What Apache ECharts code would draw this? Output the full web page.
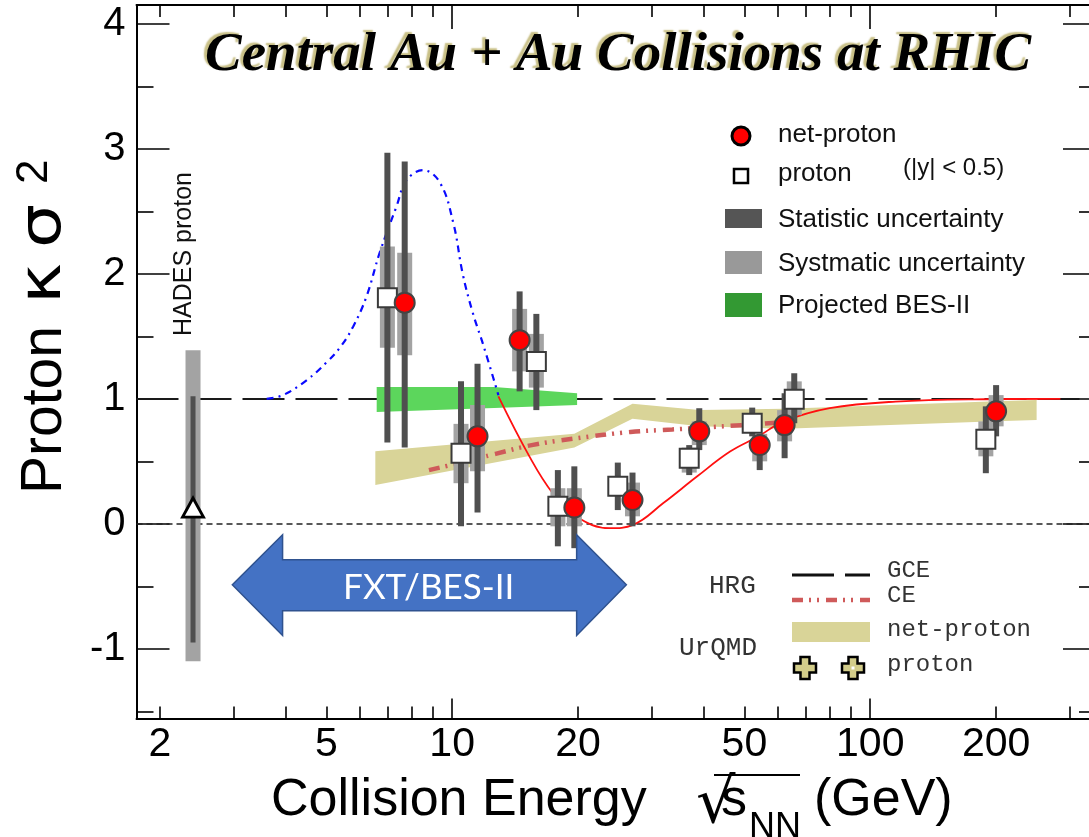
<!DOCTYPE html>
<html><head><meta charset="utf-8">
<script src="https://cdn.jsdelivr.net/npm/echarts@6/dist/echarts.min.js"></script>
<style>html,body{margin:0;padding:0;overflow:hidden;background:#fff}#c{position:absolute;left:0;top:0;width:1100px;height:837px}</style>
</head><body><div id="c"></div><script>
// ---------------- data ----------------
// STAR net-proton (red circles)
const netE = [7.7, 11.5, 14.5, 19.6, 27, 39, 54.4, 62.4, 200];
const netK = [1.77, 0.70, 1.47, 0.13, 0.19, 0.74, 0.63, 0.79, 0.90];
const netStatLo = [0.61, 0.09, 1.06, -0.195, -0.02, 0.59, 0.43, 0.525, 0.70];
const netStatHi = [2.90, 1.28, 1.86, 0.46, 0.41, 0.925, 0.72, 1.045, 1.11];
const netSysLo = [1.35, 0.42, 1.22, -0.02, 0.06, 0.63, 0.50, 0.66, 0.78];
const netSysHi = [2.17, 0.95, 1.72, 0.285, 0.33, 0.82, 0.72, 0.91, 1.03];
// STAR proton (open squares, drawn slightly left)
const protE = [7.0, 10.5, 15.9, 17.9, 24.9, 36.9, 52.2, 65.8, 189];
const protK = [1.81, 0.565, 1.30, 0.14, 0.30, 0.525, 0.805, 0.997, 0.677];
const protStatLo = [0.65, -0.02, 0.91, -0.18, 0.11, 0.39, 0.70, 0.805, 0.405];
const protStatHi = [2.97, 1.14, 1.68, 0.43, 0.49, 0.63, 0.93, 1.205, 0.94];
const protSysLo = [1.41, 0.325, 1.09, -0.02, 0.22, 0.41, 0.74, 0.87, 0.54];
const protSysHi = [2.22, 0.80, 1.52, 0.285, 0.38, 0.61, 0.87, 1.14, 0.82];
// HADES proton
const hadesE = [2.4];
const hadesK = [0.13];
const hadesStatLo = [-0.95], hadesStatHi = [1.02];
const hadesSysLo = [-1.10], hadesSysHi = [1.39];
// Projected BES-II band
const bes2E = [6.6, 12.6, 19.9];
const bes2Lo = [0.895, 0.927, 0.95];
const bes2Hi = [1.095, 1.095, 1.045];
// UrQMD net-proton band
const urE = [6.55, 19.6, 27, 39, 62.4, 200, 250];
const urLo = [0.31, 0.61, 0.84, 0.78, 0.76, 0.82, 0.83];
const urHi = [0.58, 0.72, 0.96, 0.91, 0.92, 0.98, 0.99];
// HRG CE
const ceE = [8.8, 10.5, 12.7, 15.5, 19.4, 26.7, 33.6, 44.4, 60.6];
const ceK = [0.43, 0.49, 0.56, 0.63, 0.68, 0.735, 0.755, 0.78, 0.81];
// blue dash-dot curve
const blueE = [3.6, 3.94, 4.49, 5.0, 5.39, 5.8, 6.24, 6.71, 7.36, 7.78, 8.52, 9.35, 10.06, 10.6, 11.2, 11.9, 12.9];
const blueK = [1.0, 1.03, 1.15, 1.29, 1.41, 1.58, 1.82, 2.17, 2.54, 2.75, 2.83, 2.73, 2.41, 2.0, 1.69, 1.42, 1.03];
// red solid curve
const redE = [12.9, 15.3, 17.4, 19.8, 23.8, 27.1, 32.0, 38.5, 46.2, 54, 62, 80, 115, 188, 285];
const redK = [1.02, 0.54, 0.245, 0.058, -0.035, -0.008, 0.166, 0.378, 0.578, 0.70, 0.818, 0.925, 0.978, 0.997, 1.0];
// FXT/BES-II arrow outline
const arrowE = [2.98, 3.93, 3.93, 19.85, 19.85, 26.1, 19.85, 19.85, 3.93, 3.93];
const arrowK = [-0.488, -0.088, -0.288, -0.288, -0.088, -0.488, -0.894, -0.696, -0.696, -0.894];
const arrowLabel = ['FXT/BES-II', 8.79, -0.508];
// axes
const xMin = 1.758, xMax = 346.7, yMin = -1.558, yMax = 4.152;
const xLabelVals = [2, 5, 10, 20, 50, 100, 200];
const xMajorTicks = [10, 100];
const xMinorTicks = [2,3,4,5,6,7,8,9,20,30,40,50,60,70,80,90,200,300];
const yLabelVals = [-1, 0, 1, 2, 3, 4];
const yMinorTicks = [-1.5, -0.5, 0.5, 1.5, 2.5, 3.5];

// ---------------- chart ----------------
const chart = echarts.init(document.getElementById('c'), null, {renderer: 'canvas'});
const L = v => Math.log10(v);
const SANS = '"Liberation Sans", Arial, sans-serif';
const MONO = '"Liberation Mono", "Courier New", monospace';

const noLine = {show: false, onZero: false};
const axLine = {show: true, onZero: false, lineStyle: {color: '#000', width: 2}};
const tickStyle = {color: '#000', width: 1.6};

function xAx(pos, opts) {
  return Object.assign({type: 'value', min: L(xMin), max: L(xMax), position: pos, gridIndex: 0,
    axisLine: noLine, splitLine: {show: false}, axisLabel: {show: false}}, opts);
}
function yAx(pos, opts) {
  return Object.assign({type: 'value', min: yMin, max: yMax, position: pos, gridIndex: 0,
    axisLine: noLine, splitLine: {show: false}, axisLabel: {show: false}}, opts);
}

function bandRender(E, lo, hi, color) {
  return function (params, api) {
    if (params.dataIndex !== 0) return null;
    const pts = [];
    for (let i = 0; i < E.length; i++) pts.push(api.coord([E[i], hi[i]]));
    for (let i = E.length - 1; i >= 0; i--) pts.push(api.coord([E[i], lo[i]]));
    return {type: 'polygon', shape: {points: pts}, style: {fill: color}};
  };
}
function barRender(width, color) {
  return function (params, api) {
    const x = api.value(0), lo = api.value(1), hi = api.value(2);
    const p1 = api.coord([x, hi]), p2 = api.coord([x, lo]);
    return {type: 'rect', shape: {x: p1[0] - width / 2, y: p1[1], width: width, height: p2[1] - p1[1]},
      style: {fill: color}};
  };
}
function zip3(a, b, c) { return a.map((v, i) => [v, b[i], c[i]]); }
function zip2(a, b) { return a.map((v, i) => [v, b[i]]); }

function errSeries(E, lo, hi, w, color, z) {
  return {type: 'custom', xAxisIndex: 0, yAxisIndex: 0, z: z, silent: true,
    renderItem: barRender(w, color), data: zip3(E, lo, hi), encode: {x: 0, y: [1, 2]}};
}

const STAT = '#4f4f4f', SYS = '#a3a3a3';

const series = [
  {type: 'custom', name: 'UrQMD net-proton', xAxisIndex: 0, yAxisIndex: 0, z: 2, silent: true,
    renderItem: bandRender(urE, urLo, urHi, '#d9d498'), data: zip3(urE, urLo, urHi), encode: {x: 0, y: [1, 2]},
    markLine: {silent: true, z: 1, symbol: ['none', 'none'], label: {show: false}, animation: false,
      data: [
        {yAxis: 1, lineStyle: {type: [42, 11], color: '#1a1a1a', width: 2.2}},
        {yAxis: 0, lineStyle: {type: [6, 4], color: '#222', width: 1.6}}
      ]}},
  {type: 'custom', name: 'Projected BES-II', xAxisIndex: 0, yAxisIndex: 0, z: 2, silent: true,
    renderItem: bandRender(bes2E, bes2Lo, bes2Hi, '#5cd65c'), data: zip3(bes2E, bes2Lo, bes2Hi), encode: {x: 0, y: [1, 2]}},
  {type: 'line', name: 'HRG CE', xAxisIndex: 0, yAxisIndex: 0, z: 3, data: zip2(ceE, ceK), smooth: 0.4,
    showSymbol: false, symbol: 'none', lineStyle: {color: '#cf5a5a', width: 4.5, type: [11, 6, 2, 6, 2, 7]}},
  {type: 'line', name: 'blue', xAxisIndex: 0, yAxisIndex: 0, z: 3, data: zip2(blueE, blueK), smooth: 0.4,
    showSymbol: false, symbol: 'none', lineStyle: {color: '#0a0aff', width: 2.2, type: [7, 5, 2, 5]}},
  {type: 'line', name: 'red', xAxisIndex: 0, yAxisIndex: 0, z: 3, data: zip2(redE, redK), smooth: 0.4,
    showSymbol: false, symbol: 'none', lineStyle: {color: '#ff1010', width: 1.8}},
  errSeries(hadesE, hadesSysLo, hadesSysHi, 15, SYS, 4),
  errSeries(hadesE, hadesStatLo, hadesStatHi, 5, STAT, 4),
  errSeries(protE, protSysLo, protSysHi, 15, SYS, 4),
  errSeries(netE, netSysLo, netSysHi, 15, SYS, 4),
  errSeries(protE, protStatLo, protStatHi, 6, STAT, 4),
  errSeries(netE, netStatLo, netStatHi, 6, STAT, 4),
  {type: 'scatter', name: 'proton', xAxisIndex: 0, yAxisIndex: 0, z: 5, data: zip2(protE, protK),
    symbol: 'rect', symbolSize: 19, itemStyle: {color: '#fff', borderColor: '#3a3a3a', borderWidth: 2, opacity: 1}},
  {type: 'scatter', name: 'net-proton', xAxisIndex: 0, yAxisIndex: 0, z: 6, data: zip2(netE, netK),
    symbol: 'circle', symbolSize: 20, itemStyle: {color: '#ff0000', borderColor: '#444', borderWidth: 2, opacity: 1}},
  {type: 'scatter', name: 'HADES', xAxisIndex: 0, yAxisIndex: 0, z: 6, data: zip2(hadesE, hadesK),
    symbol: 'triangle', symbolSize: [21, 19], itemStyle: {color: '#fff', borderColor: '#000', borderWidth: 2.8, opacity: 1}},
  {type: 'custom', name: 'arrow', xAxisIndex: 0, yAxisIndex: 0, z: 7, silent: true,
    data: zip2(arrowE, arrowK), encode: {x: 0, y: 1},
    renderItem: function (params, api) {
      if (params.dataIndex !== 0) return null;
      const pts = arrowE.map((e, i) => api.coord([e, arrowK[i]]));
      const c = api.coord([arrowLabel[1], arrowLabel[2]]);
      return {type: 'group', children: [
        {type: 'polygon', shape: {points: pts}, style: {fill: '#4472c4', stroke: '#2f528f', lineWidth: 1.5}},
        {type: 'text', x: c[0], y: c[1], style: {text: arrowLabel[0], fill: '#fff', font: '35px Lato, "Open Sans", sans-serif',
          textAlign: 'center', textVerticalAlign: 'middle'}}
      ]};
    }}
];

function cross(cx, cy) {
  const a = 11, b = 4.5;
  return [[cx-b,cy-a],[cx+b,cy-a],[cx+b,cy-b],[cx+a,cy-b],[cx+a,cy+b],[cx+b,cy+b],[cx+b,cy+a],[cx-b,cy+a],[cx-b,cy+b],[cx-a,cy+b],[cx-a,cy-b],[cx-b,cy-b]];
}
function txt(text, x, y, font, extra) {
  return {type: 'text', x: x, y: y, silent: true, z: 20,
    style: Object.assign({text: text, font: font, fill: '#111', textAlign: 'left', textVerticalAlign: 'middle'}, extra || {})};
}
function vtxt(text, x, y, font, sx) {
  return {type: 'text', x: x, y: y, rotation: Math.PI / 2, scaleX: sx || 1, z: 20, silent: true,
    style: {text: text, font: font, fill: '#000', textAlign: 'left', textVerticalAlign: 'middle'}};
}

const GREEK = '"DejaVu Sans", ' + SANS;
const graphic = [
  // title
  {type: 'text', x: 205, y: 56, z: 20, silent: true, style: {text: 'Central Au + Au Collisions at RHIC',
    font: 'italic bold 55px "Liberation Serif", "Times New Roman", serif', fill: '#000', textAlign: 'left', textVerticalAlign: 'middle',
    textShadowColor: '#c8bf85', textShadowOffsetX: -3, textShadowOffsetY: -2, textShadowBlur: 1.5}},
  // y-axis title: Proton κσ²
  vtxt('Proton', 45, 494, '57px ' + SANS),
  vtxt('κ', 45, 304, '58px ' + GREEK, 1.2),
  vtxt('σ', 45, 248, '58px ' + GREEK, 1.2),
  vtxt('2', 35, 184, '44px ' + SANS),
  // x-axis title
  txt('Collision Energy', 271, 801, '52px ' + SANS, {fill: '#000'}),
  txt('√', 696, 806, '62px "DejaVu Sans", sans-serif', {fill: '#000'}),
  {type: 'line', z: 20, silent: true, shape: {x1: 714, y1: 775, x2: 800, y2: 775}, style: {stroke: '#000', lineWidth: 2}},
  txt('s', 721, 801, '52px ' + SANS, {fill: '#000'}),
  txt('NN', 749, 828, '36px ' + SANS, {fill: '#000'}),
  txt('(GeV)', 814, 801, '52px ' + SANS, {fill: '#000'}),
  // HADES label
  {type: 'text', x: 184, y: 336, rotation: Math.PI / 2, z: 20, silent: true, style: {text: 'HADES proton',
    font: '25px ' + SANS, fill: '#111', textAlign: 'left', textVerticalAlign: 'middle'}},
  // top-right legend
  {type: 'circle', z: 20, silent: true, shape: {cx: 741, cy: 136, r: 9}, style: {fill: '#ff0000', stroke: '#000', lineWidth: 3}},
  {type: 'rect', z: 20, silent: true, shape: {x: 734, y: 169, width: 14, height: 14}, style: {fill: '#fff', stroke: '#000', lineWidth: 2.5}},
  {type: 'rect', z: 20, silent: true, shape: {x: 725, y: 209, width: 37, height: 19}, style: {fill: '#555'}},
  {type: 'rect', z: 20, silent: true, shape: {x: 725, y: 251, width: 37, height: 23}, style: {fill: '#999'}},
  {type: 'rect', z: 20, silent: true, shape: {x: 725, y: 293, width: 37, height: 24}, style: {fill: '#339933'}},
  txt('net-proton', 778, 135, '26px ' + SANS),
  txt('proton', 778, 174, '26px ' + SANS),
  txt('(|y| < 0.5)', 903, 168, '24px ' + SANS),
  txt('Statistic uncertainty', 778, 220, '26px ' + SANS),
  txt('Systmatic uncertainty', 778, 264, '26px ' + SANS),
  txt('Projected BES-II', 778, 306, '26px ' + SANS),
  // bottom-right legend
  txt('HRG', 709, 586, '26px ' + MONO, {fill: '#333'}),
  txt('UrQMD', 679, 648, '26px ' + MONO, {fill: '#333'}),
  {type: 'line', z: 20, silent: true, shape: {x1: 792, y1: 575, x2: 870, y2: 575}, style: {stroke: '#111', lineWidth: 3, lineDash: [42, 11]}},
  {type: 'line', z: 20, silent: true, shape: {x1: 792, y1: 600, x2: 870, y2: 600}, style: {stroke: '#cf5a5a', lineWidth: 4.5, lineDash: [11, 6, 2, 6, 2, 7]}},
  {type: 'rect', z: 20, silent: true, shape: {x: 792, y: 622, width: 78, height: 20}, style: {fill: '#d9d498'}},
  {type: 'polygon', z: 20, silent: true, shape: {points: cross(805, 668)}, style: {fill: '#d3cd8a', stroke: '#000', lineWidth: 2.5}},
  {type: 'polygon', z: 20, silent: true, shape: {points: cross(853, 668)}, style: {fill: '#d3cd8a', stroke: '#000', lineWidth: 2.5}},
  {type: 'rect', z: 21, silent: true, shape: {x: 851.5, y: 666.5, width: 3, height: 3}, style: {fill: '#fff'}},
  txt('GCE', 887, 571, '24px ' + MONO, {fill: '#333'}),
  txt('CE', 887, 596, '24px ' + MONO, {fill: '#333'}),
  txt('net-proton', 887, 630, '24px ' + MONO, {fill: '#333'}),
  txt('proton', 887, 665, '24px ' + MONO, {fill: '#333'})
];

const option = {
  animation: false,
  backgroundColor: '#fff',
  grid: {left: 136.5, top: 5, width: 959.5, height: 713.5, containLabel: false, outerBoundsMode: 'none', show: false},
  xAxis: [
    {type: 'log', logBase: 10, min: xMin, max: xMax, show: false, gridIndex: 0, axisLine: noLine},
    xAx('bottom', {axisLine: axLine, axisTick: {inside: true, length: 20, customValues: xMajorTicks.map(L), lineStyle: tickStyle},
      axisLabel: {show: true, customValues: xLabelVals.map(L), formatter: v => String(Math.round(Math.pow(10, v))),
        fontSize: 41, fontFamily: SANS, color: '#000', margin: 6}}),
    xAx('bottom', {axisTick: {inside: true, length: 12, customValues: xMinorTicks.map(L), lineStyle: tickStyle}}),
    xAx('top', {axisLine: axLine, axisTick: {inside: true, length: 24, customValues: xMajorTicks.map(L), lineStyle: tickStyle}}),
    xAx('top', {axisTick: {inside: true, length: 12, customValues: xMinorTicks.map(L), lineStyle: tickStyle}})
  ],
  yAxis: [
    yAx('left', {axisLine: axLine, axisTick: {inside: true, length: 33, customValues: yLabelVals, lineStyle: tickStyle},
      axisLabel: {show: true, customValues: yLabelVals, fontSize: 40, fontFamily: SANS, color: '#000', margin: 11}}),
    yAx('left', {axisTick: {inside: true, length: 17, customValues: yMinorTicks, lineStyle: tickStyle}}),
    yAx('right', {axisLine: axLine, axisTick: {inside: true, length: 33, customValues: yLabelVals, lineStyle: tickStyle}}),
    yAx('right', {axisTick: {inside: true, length: 17, customValues: yMinorTicks, lineStyle: tickStyle}})
  ],
  series: series,
  graphic: graphic
};
chart.setOption(option);
</script></body></html>
